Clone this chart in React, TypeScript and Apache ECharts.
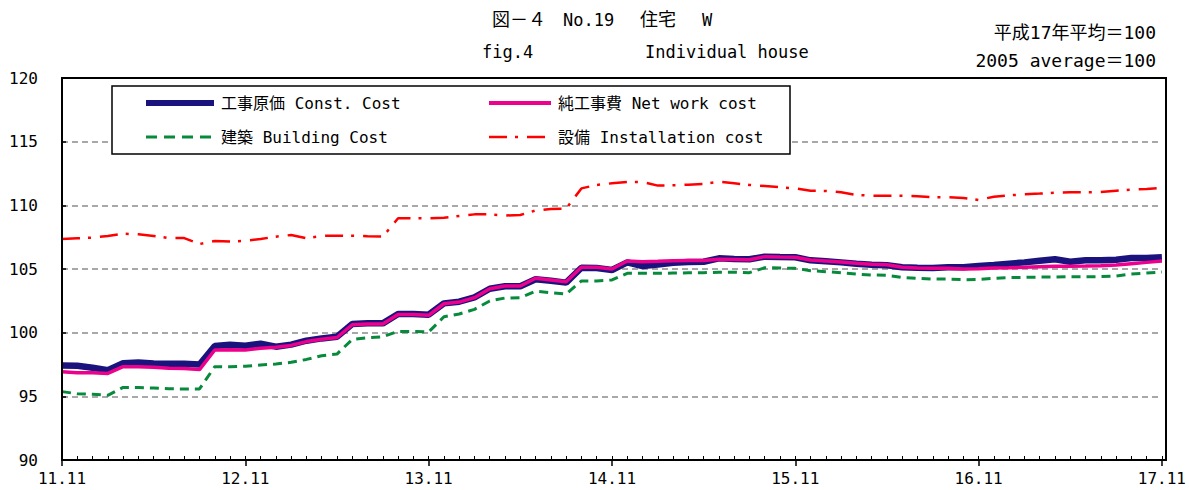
import React, { useEffect, useRef } from "react";
import * as echarts from "echarts";

const years = [11, 12, 13, 14, 15, 16, 17];
const months = ["01", "02", "03", "04", "05", "06", "07", "08", "09", "10", "11", "12"];
const categories: string[] = [];
years.forEach((y) => months.forEach((m) => categories.push(`${y}.${m}`)));
const monthLabels = categories.slice(10, 83); // 11.11 ... 17.11

const constCost = [
  97.43, 97.40, 97.25, 97.05, 97.60, 97.65, 97.57, 97.55, 97.55, 97.50,
  98.95, 99.05, 98.97, 99.13, 98.90, 99.06, 99.37, 99.55, 99.68, 100.68,
  100.73, 100.73, 101.47, 101.47, 101.41, 102.30, 102.43, 102.77, 103.45, 103.64,
  103.64, 104.19, 104.08, 103.93, 105.10, 105.08, 104.92, 105.52, 105.23, 105.36,
  105.49, 105.55, 105.57, 105.84, 105.78, 105.76, 105.97, 105.94, 105.92, 105.68,
  105.60, 105.52, 105.42, 105.34, 105.29, 105.13, 105.10, 105.08, 105.13, 105.13,
  105.23, 105.31, 105.42, 105.52, 105.65, 105.76, 105.57, 105.68, 105.68, 105.73,
  105.86, 105.86, 105.92,
];

const netWorkCost = [
  96.94, 96.86, 96.86, 96.80, 97.33, 97.33, 97.28, 97.20, 97.18, 97.10,
  98.64, 98.65, 98.64, 98.77, 98.85, 99.00, 99.30, 99.48, 99.62, 100.62,
  100.68, 100.68, 101.42, 101.42, 101.36, 102.27, 102.40, 102.75, 103.45, 103.66,
  103.66, 104.27, 104.14, 104.00, 105.13, 105.13, 105.00, 105.63, 105.57, 105.60,
  105.65, 105.67, 105.67, 105.76, 105.74, 105.72, 105.97, 105.94, 105.92, 105.70,
  105.63, 105.55, 105.45, 105.38, 105.33, 105.13, 105.08, 105.05, 105.05, 105.00,
  105.02, 105.08, 105.10, 105.13, 105.18, 105.21, 105.21, 105.23, 105.26, 105.31,
  105.42, 105.52, 105.63,
];

const buildingCost = [
  95.37, 95.20, 95.16, 95.08, 95.70, 95.70, 95.65, 95.60, 95.58, 95.58,
  97.33, 97.32, 97.36, 97.46, 97.54, 97.67, 97.90, 98.19, 98.32, 99.47,
  99.60, 99.68, 100.10, 100.10, 100.05, 101.25, 101.47, 101.83, 102.49, 102.72,
  102.75, 103.25, 103.14, 103.04, 104.06, 104.06, 104.14, 104.66, 104.66, 104.66,
  104.68, 104.70, 104.71, 104.74, 104.75, 104.71, 105.10, 105.08, 105.05, 104.87,
  104.79, 104.71, 104.60, 104.53, 104.50, 104.34, 104.27, 104.21, 104.21, 104.16,
  104.18, 104.27, 104.32, 104.34, 104.37, 104.37, 104.40, 104.40, 104.40, 104.45,
  104.60, 104.68, 104.76,
];

const installationCost = [
  107.36, 107.41, 107.46, 107.60, 107.77, 107.72, 107.60, 107.43, 107.43, 106.96,
  107.20, 107.15, 107.22, 107.36, 107.54, 107.67, 107.41, 107.60, 107.62, 107.62,
  107.57, 107.54, 108.98, 108.98, 108.98, 109.03, 109.16, 109.29, 109.29, 109.20,
  109.24, 109.60, 109.71, 109.74, 111.33, 111.60, 111.73, 111.83, 111.83, 111.55,
  111.57, 111.62, 111.67, 111.86, 111.73, 111.60, 111.52, 111.42, 111.33, 111.15,
  111.13, 111.02, 110.81, 110.76, 110.76, 110.76, 110.71, 110.65, 110.63, 110.58,
  110.42, 110.68, 110.79, 110.86, 110.92, 110.99, 111.02, 111.02, 111.05, 111.15,
  111.23, 111.28, 111.36,
];

const seriesNames = [
  "工事原価 Const. Cost",
  "純工事費 Net work cost",
  "建築 Building Cost",
  "設備 Installation cost",
];

const FONT = "'DejaVu Sans Mono', 'Noto Sans CJK JP', monospace";

const NAVY = "#1b137d";
const PINK = "#ec008c";
const GREEN = "#078a3c";
const RED = "#ff0000";

export default function App() {
  const ref = useRef<HTMLDivElement>(null);
  useEffect(() => {
    if (!ref.current) return;
    const chart = echarts.init(ref.current, undefined, { renderer: "svg" });
    const textStyle = { fontFamily: FONT, fontSize: 16, color: "#000" };
    const hiddenSymbol = { opacity: 0, borderWidth: 0 };
    chart.setOption({
      animation: false,
      backgroundColor: "#fff",
      textStyle: { fontFamily: FONT },
      grid: {
        left: 62,
        right: 23,
        top: 78,
        bottom: 30,
        show: false,
      },
      legend: [
        {
          data: [
            { name: seriesNames[0], itemStyle: hiddenSymbol, lineStyle: { color: NAVY, width: 6, type: "solid" } },
            { name: seriesNames[2], itemStyle: hiddenSymbol, lineStyle: { color: GREEN, width: 3, type: [11, 7] } },
          ],
          orient: "vertical",
          left: 143,
          top: 95,
          padding: 0,
          itemWidth: 68,
          itemHeight: 14,
          itemGap: 18,
          textStyle: { ...textStyle, padding: [0, 0, 0, 2] },
          z: 20,
          selectedMode: false,
        },
        {
          data: [
            { name: seriesNames[1], itemStyle: hiddenSymbol, lineStyle: { color: PINK, width: 4, type: "solid" } },
            { name: seriesNames[3], itemStyle: hiddenSymbol, lineStyle: { color: RED, width: 2.5, type: [18, 8, 3, 9] } },
          ],
          orient: "vertical",
          left: 487,
          top: 95,
          padding: 0,
          itemWidth: 62,
          itemHeight: 14,
          itemGap: 18,
          textStyle: { ...textStyle, padding: [0, 0, 0, 2] },
          z: 20,
          selectedMode: false,
        },
      ],
      graphic: [
        {
          type: "rect",
          z: 10,
          shape: { x: 112, y: 86, width: 678, height: 68 },
          style: { fill: "#fff", stroke: "#000", lineWidth: 1.5 },
        },
        {
          type: "rect",
          z: 30,
          silent: true,
          shape: { x: 62, y: 78, width: 1104, height: 382 },
          style: { fill: "none", stroke: "#000", lineWidth: 2 },
        },
        { type: "text", left: 492, top: 10, style: { text: "図－４", font: `18px ${FONT}`, fill: "#000" } },
        { type: "text", left: 563, top: 11, style: { text: "No.19", font: `17px ${FONT}`, fill: "#000" } },
        { type: "text", left: 640, top: 10, style: { text: "住宅", font: `18px ${FONT}`, fill: "#000" } },
        { type: "text", left: 702, top: 11, style: { text: "W", font: `17px ${FONT}`, fill: "#000" } },
        { type: "text", left: 482, top: 43, style: { text: "fig.4", font: `17px ${FONT}`, fill: "#000" } },
        { type: "text", left: 645, top: 43, style: { text: "Individual house", font: `17px ${FONT}`, fill: "#000" } },
        { type: "text", right: 33, top: 23, style: { text: "平成17年平均＝100", font: `18px ${FONT}`, fill: "#000" } },
        { type: "text", right: 33, top: 51, style: { text: "2005 average＝100", font: `18px ${FONT}`, fill: "#000" } },
      ],
      xAxis: [
        {
          type: "category",
          data: monthLabels,
          boundaryGap: false,
          position: "bottom",
          axisLine: { show: true, lineStyle: { color: "#000", width: 2 } },
          axisTick: { show: true, inside: true, interval: 0, length: 4, lineStyle: { color: "#000", width: 1 } },
          axisLabel: { interval: 11, margin: 10, ...textStyle },
          splitLine: { show: false },
        },
        {
          type: "category",
          data: monthLabels,
          boundaryGap: false,
          position: "bottom",
          axisLine: { show: false },
          axisTick: { show: true, inside: false, interval: 11, length: 6, lineStyle: { color: "#000", width: 1.5 } },
          axisLabel: { show: false },
          splitLine: { show: false },
        },
      ],
      yAxis: {
        type: "value",
        min: 90,
        max: 120,
        interval: 5,
        axisLine: { show: true, lineStyle: { color: "#000", width: 2 } },
        axisTick: { show: true, inside: true, length: 4, lineStyle: { color: "#000", width: 1.5 } },
        axisLabel: { margin: 24, ...textStyle },
        splitLine: { show: true, lineStyle: { color: "#8c8c8c", type: [6, 4], width: 1.5 } },
      },
      series: [
        {
          name: seriesNames[0],
          type: "line",
          data: constCost,
          symbol: "none",
          lineStyle: { color: NAVY, width: 6.5 },
          itemStyle: { color: NAVY },
          z: 2,
        },
        {
          name: seriesNames[1],
          type: "line",
          data: netWorkCost,
          symbol: "none",
          lineStyle: { color: PINK, width: 3.5 },
          itemStyle: { color: PINK },
          z: 3,
        },
        {
          name: seriesNames[2],
          type: "line",
          data: buildingCost,
          symbol: "none",
          lineStyle: { color: GREEN, width: 3, type: [9, 6] },
          itemStyle: { color: GREEN },
          z: 3,
        },
        {
          name: seriesNames[3],
          type: "line",
          data: installationCost,
          symbol: "none",
          lineStyle: { color: RED, width: 2.5, type: [18, 8, 3, 9] },
          itemStyle: { color: RED },
          z: 3,
        },
      ],
    });
    return () => chart.dispose();
  }, []);
  return (
    <div
      ref={ref}
      style={{ position: "fixed", left: 0, top: 0, width: 1189, height: 490, background: "#fff" }}
    />
  );
}
